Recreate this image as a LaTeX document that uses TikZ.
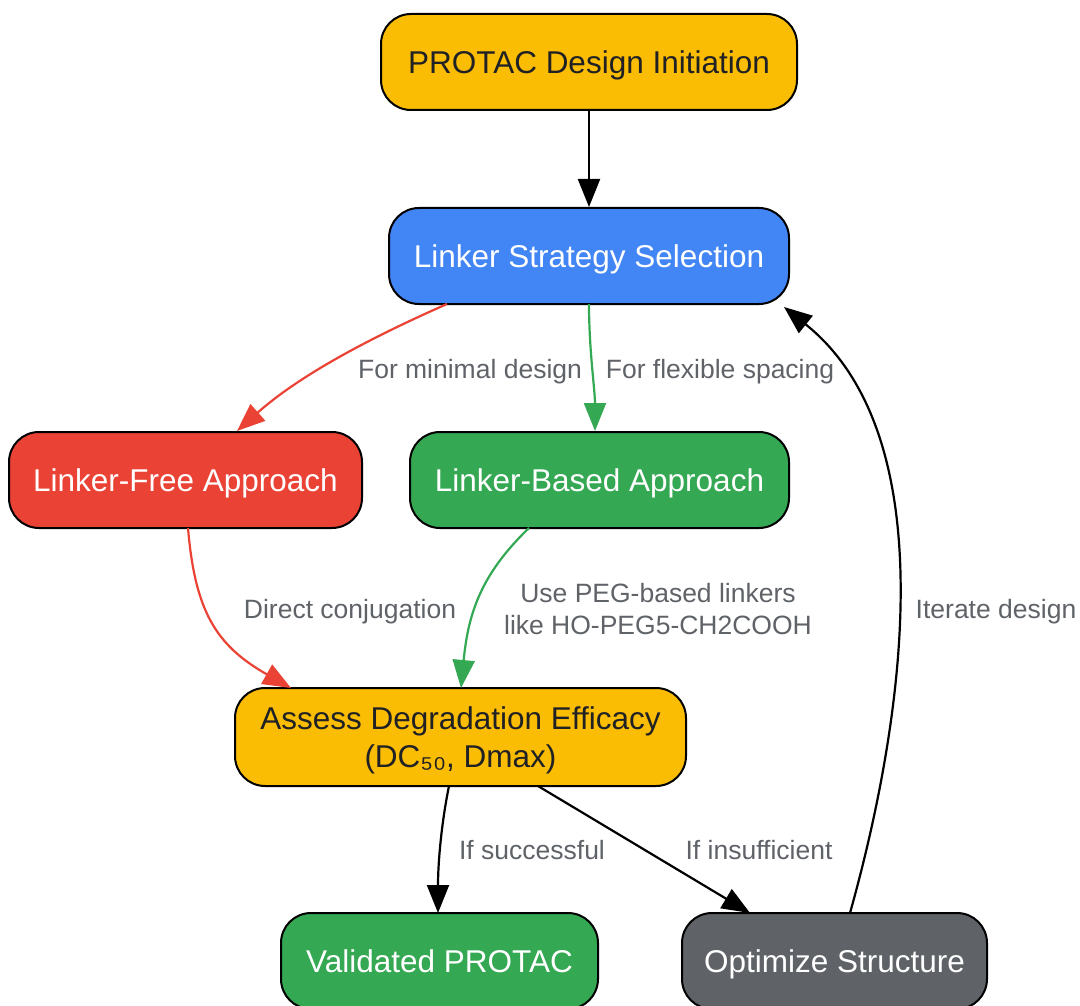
\documentclass[tikz,border=0pt]{standalone}
\usepackage{fontspec}
\setmainfont{Liberation Sans}
\usetikzlibrary{arrows.meta}
\definecolor{gamber}{HTML}{FBBC04}
\definecolor{gblue}{HTML}{4285F4}
\definecolor{gred}{HTML}{EA4335}
\definecolor{ggreen}{HTML}{34A853}
\definecolor{ggray}{HTML}{5F6368}
\definecolor{gdark}{HTML}{202124}
\begin{document}
\begin{tikzpicture}[x=1pt,y=-1pt,
  box/.style={draw=black, line width=2pt, rounded corners=30pt, align=center,
    font=\fontsize{31.5}{38}\selectfont, inner sep=0pt, minimum height=96pt, text depth=0pt},
  lbl/.style={text=ggray, font=\fontsize{26.5}{32}\selectfont, align=center, inner sep=0pt, text depth=0pt},
  conn/.style={line width=2.2pt, -{Triangle[length=28pt,width=22pt]}},
]
\useasboundingbox (0,0) rectangle (1080,1006);
\fill[white] (0,0) rectangle (1080,1006);

\node[box, fill=gamber, text=gdark, minimum width=416pt] (init) at (589,62) {PROTAC Design Initiation};
\node[box, fill=gblue, text=white, minimum width=400pt] (strat) at (589,256) {Linker Strategy Selection};
\node[box, fill=gred, text=white, minimum width=353pt] (free) at (185.5,480) {Linker-Free Approach};
\node[box, fill=ggreen, text=white, minimum width=379pt] (based) at (599.5,480) {Linker-Based Approach};
\node[box, fill=gamber, text=gdark, minimum width=451pt, minimum height=98pt] (assess) at (460.5,737) {Assess Degradation Efficacy\\(DC₅₀, Dmax)};
\node[box, fill=ggreen, text=white, minimum width=317pt] (valid) at (439.5,961) {Validated PROTAC};
\node[box, fill=ggray, text=white, minimum width=305pt] (opt) at (834.5,961) {Optimize Structure};

\draw[conn] (init.south) -- (strat.north);

\coordinate (s1) at (447,304);
\coordinate (s2) at (237,431);
\draw[conn, draw=gred] (s1) .. controls (370,338) and (300,375) .. (s2);
\node[lbl] (l1) at (470,369) {For minimal design};

\coordinate (s3) at (589,304);
\coordinate (s4) at (595,431);
\draw[conn, draw=ggreen] (s3) .. controls (589,350) and (595,390) .. (s4);
\node[lbl] (l2) at (720,369) {For flexible spacing};

\coordinate (f1) at (188,528);
\coordinate (f2) at (291,688);
\draw[conn, draw=gred] (f1) .. controls (195,610) and (215,645) .. (f2);
\node[lbl] (l3) at (350,609) {Direct conjugation};

\coordinate (b1) at (529,528);
\coordinate (b2) at (461,688);
\draw[conn, draw=ggreen] (b1) .. controls (480,575) and (468,615) .. (b2);
\node[lbl] (l4) at (658,609) {Use PEG-based linkers\\like HO-PEG5-CH2COOH};

\coordinate (v1) at (449,786);
\coordinate (v2) at (438,913);
\draw[conn] (v1) .. controls (442,820) and (438,860) .. (v2);
\node[lbl] (l5) at (532,850) {If successful};

\coordinate (o1) at (538,786);
\coordinate (o2) at (750,913);
\draw[conn] (o1) -- (o2);
\node[lbl] (l6) at (759,850) {If insufficient};

\coordinate (r1) at (850,913);
\coordinate (r2) at (784,307);
\draw[conn] (r1) .. controls (900,735) and (950,440) .. (r2);
\node[lbl] (l7) at (996,609) {Iterate design};
\end{tikzpicture}
\end{document}
